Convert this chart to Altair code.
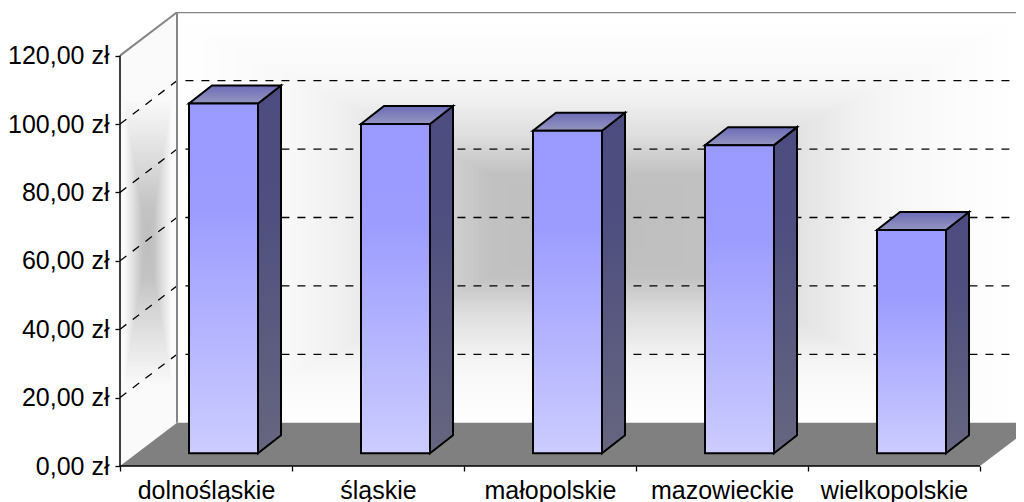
import json
import altair as alt
import numpy as np
import pandas as pd

CATEGORIES = ["dolnośląskie", "śląskie", "małopolskie", "mazowieckie", "wielkopolskie"]
VALUES = [102.3, 96.3, 94.3, 90.1, 65.3]
TICKS = [0, 20, 40, 60, 80, 100, 120]
GRID = [20, 40, 60, 80, 100]

PX_X = 172.0      # pixels per category
PX_Y = 3.42       # pixels per zloty
W, H = 896, 454
WALL_DX = 57 / PX_X
WALL_DY = 43.3 / PX_Y
BAR_LEFT = 69 / PX_X
BAR_W = 69 / PX_X
BAR_DX = 23 / PX_X
BAR_DY = 18 / PX_Y
BAR_BASE = 12.7 / PX_Y
XMAX = W / PX_X
XFAR = 5 + WALL_DX
YMAX = H / PX_Y
YTOP = 120 + WALL_DY

xs = alt.Scale(domain=[0, XMAX], nice=False, zero=False)
ys = alt.Scale(domain=[0, YMAX], nice=False, zero=False)
X = alt.X("x:Q", scale=xs, title=None)
Y = alt.Y("y:Q", scale=ys, title=None)
Y2 = alt.Y2("y2:Q")


def lin(*stops):
    return alt.LinearGradient(
        gradient="linear", x1=0, y1=0, x2=0, y2=1,
        stops=[alt.GradientStop(offset=o, color=c) for o, c in stops])


def shading(cx, cy, half_x, half_y, ts, shade_t, shade_v):
    """Nested rectangles giving the rectangular wall shading, outermost first."""
    rows = []
    for t in ts:
        g = int(round(np.interp(t, shade_t, shade_v)))
        rows.append({
            "x": cx - half_x * t, "x2": cx + half_x * t,
            "y": cy - half_y * t, "y2": cy + half_y * t,
            "shade": f"rgb({g},{g},{g})",
        })
    return pd.DataFrame(rows)


def shade_layer(df):
    return alt.Chart(df).mark_rect(clip=True).encode(
        x=X, x2="x2:Q", y=Y, y2=Y2,
        fill=alt.Fill("shade:N", scale=None, legend=None),
    )


BACK_T = np.arange(1.36, 0.0, -0.015)
back = shade_layer(shading(
    (597 - 120) / PX_X, (466 - 225) / PX_Y, 310 / PX_X, 150 / PX_Y, BACK_T,
    [0.0, 0.35, 0.6, 0.85, 1.0, 1.36], [190, 193, 222, 241, 248, 255],
))

left_df = pd.DataFrame([
    {"x": 0, "y": 0, "y2": 120},
    {"x": WALL_DX, "y": WALL_DY, "y2": YTOP},
])
left_base = alt.Chart(left_df).mark_area(orient="vertical", fill="#fafafa").encode(x=X, y=Y, y2=Y2)

LEFT_T = np.arange(1.0, 0.0, -0.02)
left_shade = shade_layer(shading(
    (148 - 120) / PX_X, (466 - 242) / PX_Y, 24 / PX_X, 145 / PX_Y, LEFT_T,
    [0.0, 0.25, 0.6, 1.0], [190, 195, 222, 250],
))

floor_df = pd.DataFrame([
    {"x": 0, "y": 0, "y2": 0},
    {"x": WALL_DX, "y": 0, "y2": WALL_DY},
    {"x": 5, "y": 0, "y2": WALL_DY},
    {"x": XFAR, "y": WALL_DY, "y2": WALL_DY},
])
floor = alt.Chart(floor_df).mark_area(orient="vertical", clip=True, fill="#808080").encode(x=X, y=Y, y2=Y2)

grid_rows = []
for v in GRID:
    for x, y in [(0, v), (WALL_DX, v + WALL_DY), (XFAR, v + WALL_DY)]:
        grid_rows.append({"x": x, "y": y, "level": v})
grid = alt.Chart(pd.DataFrame(grid_rows)).mark_line(
    clip=True, color="black", strokeWidth=1.3, strokeDash=[8, 8]
).encode(x=X, y=Y, detail="level:N", order=alt.Order("x:Q"))

edge_rows = [
    {"x": 0, "y": 120, "part": "top"},
    {"x": WALL_DX, "y": YTOP, "part": "top"},
    {"x": XFAR, "y": YTOP, "part": "top"},
    {"x": WALL_DX, "y": WALL_DY, "part": "back"},
    {"x": WALL_DX, "y": YTOP, "part": "back"},
]
edges = alt.Chart(pd.DataFrame(edge_rows)).mark_line(
    clip=True, color="#868686", strokeWidth=2
).encode(x=X, y=Y, detail="part:N")

front_rows, side_rows, top_rows = [], [], []
for i, (c, v) in enumerate(zip(CATEGORIES, VALUES)):
    x0 = i + BAR_LEFT
    x1 = x0 + BAR_W
    lo = BAR_BASE
    hi = BAR_BASE + v
    front_rows.append({"cat": c, "x": x0, "x2": x1, "y": lo, "y2": hi})
    side_rows.append({"cat": c, "x": x1, "y": lo, "y2": hi})
    side_rows.append({"cat": c, "x": x1 + BAR_DX, "y": lo + BAR_DY, "y2": hi + BAR_DY})
    top_rows.append({"cat": c, "x": x0, "y": hi, "y2": hi})
    top_rows.append({"cat": c, "x": x0 + BAR_DX, "y": hi, "y2": hi + BAR_DY})
    top_rows.append({"cat": c, "x": x1, "y": hi, "y2": hi + BAR_DY})
    top_rows.append({"cat": c, "x": x1 + BAR_DX, "y": hi + BAR_DY, "y2": hi + BAR_DY})

side = alt.Chart(pd.DataFrame(side_rows)).mark_area(
    orient="vertical", stroke="black", strokeWidth=2,
    fill=lin((0, "#4c4c80"), (0.3, "#4e4e80"), (1, "#666680")),
).encode(x=X, y=Y, y2=Y2, detail="cat:N")

top = alt.Chart(pd.DataFrame(top_rows)).mark_area(
    orient="vertical", stroke="black", strokeWidth=2,
    fill=lin((0, "#6c6cb8"), (1, "#9696c0")),
).encode(x=X, y=Y, y2=Y2, detail="cat:N")

front = alt.Chart(pd.DataFrame(front_rows)).mark_rect(
    stroke="black", strokeWidth=2,
    fill=lin((0, "#9999ff"), (0.3, "#9c9cff"), (1, "#ccccff")),
).encode(x=X, x2="x2:Q", y=Y, y2=Y2)

axis_y_df = pd.DataFrame([{"x": 0, "y": 0}, {"x": 0, "y": 120}])
axis_y_line = alt.Chart(axis_y_df).mark_line(color="black", strokeWidth=1.5).encode(x=X, y=Y)
axis_x_df = pd.DataFrame([{"x": 0, "y": 0}, {"x": 5, "y": 0}])
axis_x_line = alt.Chart(axis_x_df).mark_line(color="black", strokeWidth=1.5).encode(x=X, y=Y)

FONT = "Liberation Sans"
cats_js = json.dumps(CATEGORIES, ensure_ascii=False)
guide_x = [0, 0.5, 1, 1.5, 2, 2.5, 3, 3.5, 4, 4.5, 5]
guide_df = pd.DataFrame([{"x": 0, "y": 0}])
guides = alt.Chart(guide_df).mark_point(opacity=0).encode(
    x=alt.X("x:Q", scale=xs, axis=alt.Axis(
        values=guide_x, domain=False, grid=False, title=None,
        tickColor="black", tickSize=5, tickWidth=1.3,
        tickOpacity=alt.expr("datum.value % 1 == 0 ? 1 : 0"),
        labelExpr=f"datum.value % 1 == 0 ? '' : {cats_js}[floor(datum.value)]",
        labelFont=FONT, labelFontSize=25, labelColor="black", labelPadding=7,
        labelOverlap=False, labelFlush=False, labelBound=False,
    )),
    y=alt.Y("y:Q", scale=ys, axis=alt.Axis(
        values=TICKS, domain=False, grid=False, title=None,
        tickColor="black", tickSize=5, tickWidth=1.3,
        labelExpr="replace(format(datum.value, '.2f'), '.', ',') + ' zł'",
        labelFont=FONT, labelFontSize=25, labelColor="black", labelPadding=6,
        labelOverlap=False, labelFlush=False, labelBound=False,
    )),
)

chart = alt.layer(
    guides, back, left_base, left_shade, floor, grid, edges, axis_y_line, axis_x_line, side, top, front
).properties(
    width=W, height=H, padding={"left": 112, "top": 4, "right": 0, "bottom": 36},
    autosize=alt.AutoSizeParams(type="none"), background="white",
).configure_view(stroke=None)

chart.save("out.html", embed_options={"renderer": "svg", "actions": False})
